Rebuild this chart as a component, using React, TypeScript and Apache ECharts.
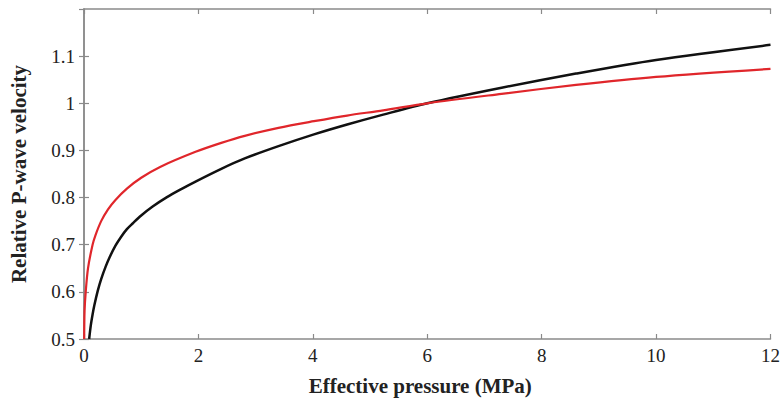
import React, { useEffect, useRef } from "react";
import * as echarts from "echarts";

const blackP = [0.09, 0.12, 0.15, 0.18, 0.24, 0.3, 0.38, 0.45, 0.55, 0.65, 0.75, 0.85, 1.0, 1.2, 1.45, 1.7, 1.95, 2.4, 2.81, 3.4, 4.02, 4.6, 5.23, 6.0, 7.3, 8.6, 10, 12];
const blackV = [0.5, 0.53, 0.552, 0.571, 0.602, 0.627, 0.654, 0.674, 0.698, 0.717, 0.733, 0.745, 0.762, 0.781, 0.801, 0.818, 0.834, 0.861, 0.883, 0.909, 0.934, 0.955, 0.976, 1.0, 1.033, 1.063, 1.092, 1.124];
const redP = [0.003, 0.01, 0.03, 0.07, 0.15, 0.2, 0.3, 0.42, 0.55, 0.75, 1.0, 1.33, 1.95, 2.4, 2.81, 3.4, 4.02, 4.6, 5.23, 6.0, 7.3, 8.6, 10, 12];
const redV = [0.5, 0.56, 0.6, 0.65, 0.7, 0.72, 0.75, 0.775, 0.795, 0.819, 0.842, 0.865, 0.897, 0.916, 0.931, 0.948, 0.962, 0.974, 0.985, 1.0, 1.02, 1.039, 1.056, 1.073];
const xTitle = "Effective pressure (MPa)";
const yTitle = "Relative P-wave velocity";

export default function App() {
  const ref = useRef<HTMLDivElement>(null);
  useEffect(() => {
    document.body.style.margin = "0";
    const chart = echarts.init(ref.current!, null, { renderer: "svg" });
    const axisLine = { show: true, lineStyle: { color: "#8a8a8a", width: 1.5 } };
    const tick = { show: true, inside: true, length: 5, lineStyle: { color: "#8a8a8a", width: 1.2 } };
    const label = { fontFamily: "Liberation Serif", fontSize: 19, color: "#222" };
    const titleStyle = { fontFamily: "Liberation Serif", fontSize: 21, fontWeight: "bold", color: "#222" };
    chart.setOption({
      animation: false,
      grid: { left: 77, right: 11, top: 9, bottom: 59 },
      xAxis: [
        {
          type: "value", min: 0, max: 12, interval: 2,
          axisLine, axisTick: tick, splitLine: { show: false },
          axisLabel: { ...label, margin: 7 },
          name: xTitle, nameLocation: "middle", nameGap: 36,
          nameTextStyle: { ...titleStyle, padding: [0, 14, 0, 0] },
        },
        {
          type: "value", min: 0, max: 12, interval: 2, position: "top",
          axisLine, axisTick: tick, splitLine: { show: false }, axisLabel: { show: false },
        },
      ],
      yAxis: [
        {
          type: "value", min: 0.5, max: 1.2, interval: 0.1,
          axisLine, axisTick: tick, splitLine: { show: false },
          axisLabel: { ...label, margin: 9, showMaxLabel: false },
          name: yTitle, nameLocation: "middle", nameGap: 55,
          nameTextStyle: titleStyle,
        },
        {
          type: "value", min: 0.5, max: 1.2, interval: 0.1, position: "right",
          axisLine, axisTick: tick, splitLine: { show: false }, axisLabel: { show: false },
        },
      ],
      series: [
        {
          type: "line", name: "black", showSymbol: false, smooth: 0.3,
          data: blackP.map((p, i) => [p, blackV[i]]),
          lineStyle: { color: "#111", width: 2.5 }, clip: true,
        },
        {
          type: "line", name: "red", showSymbol: false, smooth: 0.3,
          data: redP.map((p, i) => [p, redV[i]]),
          lineStyle: { color: "#e0262b", width: 2.2 }, clip: true,
        },
      ],
    });
    return () => chart.dispose();
  }, []);
  return <div ref={ref} style={{ width: 783, height: 401 }} />;
}
